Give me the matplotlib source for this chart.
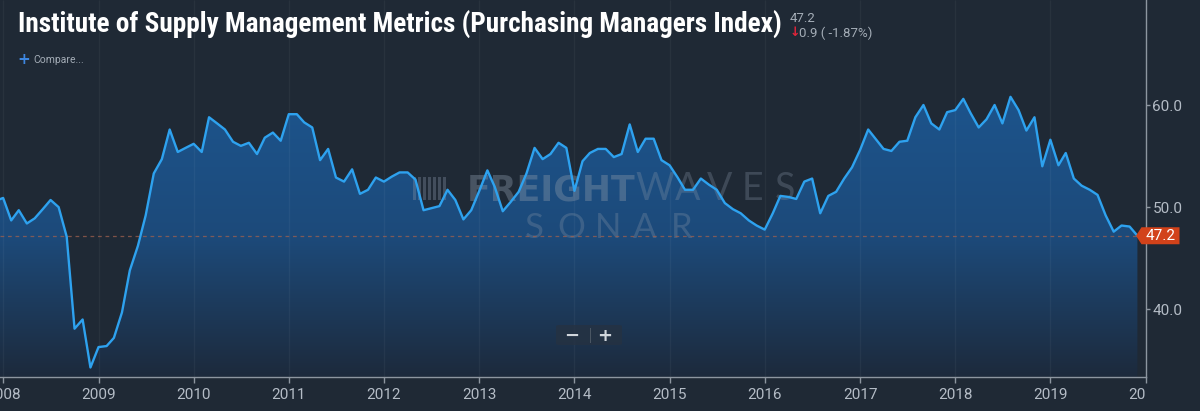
import numpy as np
import pandas as pd
import matplotlib
matplotlib.use("Agg")
import matplotlib.pyplot as plt
import matplotlib.dates as mdates
import matplotlib.transforms as mtransforms
from matplotlib.patches import Polygon, FancyBboxPatch, Rectangle
from matplotlib.colors import LinearSegmentedColormap

# ---------------- data ----------------
start_month = "2007-12-01"
pmi = [
    50.6,
    # 2008
    50.9, 48.7, 49.7, 48.4, 48.9, 49.8, 50.7, 50.0, 47.1, 38.1, 39.0, 34.3,
    # 2009
    36.3, 36.4, 37.2, 39.7, 43.8, 46.2, 49.2, 53.3, 54.7, 57.6, 55.4, 55.8,
    # 2010
    56.2, 55.4, 58.8, 58.2, 57.6, 56.4, 56.0, 56.3, 55.2, 56.8, 57.3, 56.5,
    # 2011
    59.1, 59.1, 58.3, 57.8, 54.6, 55.7, 52.9, 52.5, 53.7, 51.3, 51.7, 52.9,
    # 2012
    52.5, 53.0, 53.4, 53.4, 52.7, 49.7, 49.9, 50.1, 51.7, 50.7, 48.8, 49.7,
    # 2013
    51.6, 53.6, 52.0, 49.6, 50.5, 51.5, 53.3, 55.8, 54.7, 55.2, 56.3, 55.8,
    # 2014
    51.6, 54.5, 55.3, 55.7, 55.7, 54.9, 55.2, 58.1, 55.4, 56.7, 56.7, 54.6,
    # 2015
    54.1, 52.9, 51.7, 51.7, 52.8, 52.2, 51.7, 50.4, 49.8, 49.4, 48.7, 48.2,
    # 2016
    47.8, 49.4, 51.1, 51.0, 50.8, 52.5, 52.8, 49.4, 51.1, 51.5, 52.8, 53.9,
    # 2017
    55.6, 57.6, 56.7, 55.7, 55.5, 56.4, 56.5, 58.8, 60.0, 58.2, 57.6, 59.3,
    # 2018
    59.5, 60.6, 59.2, 57.8, 58.6, 60.0, 58.2, 60.8, 59.5, 57.5, 58.8, 54.0,
    # 2019
    56.6, 54.1, 55.3, 52.8, 52.1, 51.7, 51.2, 49.2, 47.6, 48.2, 48.1, 47.2,
]
year_ticks = list(range(2008, 2021))
y_ticks = [40.0, 50.0, 60.0]
last_value = 47.2
change = -0.9
change_pct = -1.87
title = "Institute of Supply Management Metrics (Purchasing Managers Index)"
x_start, x_end = "2007-12-20", "2019-12-18"
y_lim = (33.4, 70.28)

# ---------------- style ----------------
BG = "#1f2935"
LINE = "#2ea2ef"
AXC = "#8d96a0"
TXT = "#b4bcc6"
W, H = 1200, 411

def fx(px):
    return px / W

def fy(py):
    return 1 - py / H

dates = pd.date_range(start_month, periods=len(pmi), freq="MS")
x = mdates.date2num(dates)
xmin = mdates.date2num(pd.Timestamp(x_start))
xmax = mdates.date2num(pd.Timestamp(x_end))

fig = plt.figure(figsize=(12, 4.11), dpi=100, facecolor=BG)
ax = fig.add_axes([0, fy(376.7), fx(1145.5), 1 - fy(376.7)])
ax.set_facecolor(BG)

# gradient area
poly = ax.fill_between(x, pmi, y_lim[0], color="none", lw=0)
cmap = LinearSegmentedColormap.from_list("g", ["#1d2a3c", "#1c4a7a", "#1d548c"])
grad = np.linspace(0, 1, 256).reshape(-1, 1)
im = ax.imshow(grad, cmap=cmap, origin="lower", aspect="auto",
               extent=[xmin, xmax, y_lim[0], max(pmi)], zorder=1,
               interpolation="bilinear")
im.set_clip_path(poly.get_paths()[0], transform=ax.transData)

# year gridlines
year_x = [mdates.date2num(pd.Timestamp(f"{yr}-01-01")) for yr in year_ticks]
ax.vlines(year_x, y_lim[0], y_lim[1], color="white", alpha=0.045, lw=1, zorder=2)

# line and last-value dashed line
ax.plot(x, pmi, color=LINE, lw=1.7, zorder=5, solid_joinstyle="round")
ax.axhline(last_value, color="#a0604e", lw=0.9, ls=(0, (3, 3)), alpha=0.75, zorder=3)

ax.set_xlim(xmin, xmax)
ax.set_ylim(*y_lim)

# spines / ticks
for s in ["top", "left"]:
    ax.spines[s].set_visible(False)
for s in ["bottom", "right"]:
    ax.spines[s].set_color(AXC)
    ax.spines[s].set_linewidth(1)
ax.yaxis.tick_right()
ax.set_yticks(y_ticks)
ax.set_yticklabels([f"{v:.1f}" for v in y_ticks])
ax.set_xticks(year_x)
ax.set_xticklabels([str(yr) for yr in year_ticks])
ax.tick_params(axis="x", length=4.5, width=1, color=AXC, labelcolor=TXT,
               labelsize=11, pad=3.5)
ax.tick_params(axis="y", length=3, width=1, color=AXC, labelcolor=TXT,
               labelsize=11, pad=2)
for lab in ax.get_xticklabels() + ax.get_yticklabels():
    lab.set_family(["Roboto", "DejaVu Sans"])
clip_bb = mtransforms.TransformedBbox(
    mtransforms.Bbox([[0, 0], [1, 1]]),
    mtransforms.blended_transform_factory(ax.transAxes, fig.transFigure))
for lab in ax.get_xticklabels():
    lab.set_clip_box(clip_bb)
    lab.set_clip_on(True)

# last value tag
anchor = mtransforms.ScaledTranslation(
    1.0, last_value, mtransforms.blended_transform_factory(ax.transAxes, ax.transData))
tag = Polygon([(-9.5, 0), (-4, 8.5), (34, 8.5), (34, -8.5), (-4, -8.5)],
              closed=True, transform=anchor, fc="#d2421a", ec="none",
              clip_on=False, zorder=8)
ax.add_patch(tag)
ax.text(15, 0, f"{last_value:.1f}", transform=anchor, color="white",
        fontsize=11, ha="center", va="center", clip_on=False, zorder=9,
        family=["Roboto", "DejaVu Sans"])

# watermark (behind the line)
wm_col = "#8796a8"
ax.text(fx(635), fy(200), "FREIGHT", transform=fig.transFigure, ha="right",
        va="baseline", fontsize=25, weight="bold", color=wm_col, alpha=0.4,
        zorder=2.5, family=["DejaVu Sans"])
for i, ch in enumerate("WAVES"):
    ax.text(fx(655 + i * 32.5), fy(200), ch, transform=fig.transFigure,
            ha="center", va="baseline", fontsize=27, weight="normal",
            color=wm_col, alpha=0.3, zorder=2.5, family=["Lato", "DejaVu Sans"])
for i, ch in enumerate("SONAR"):
    ax.text(fx(534 + i * 37), fy(237.5), ch, transform=fig.transFigure,
            ha="center", va="baseline", fontsize=25, weight="normal",
            color=wm_col, alpha=0.3, zorder=2.5, family=["Lato", "DejaVu Sans"])
for i in range(7):
    ax.add_patch(Rectangle((fx(413 + i * 5), fy(200)), fx(2.5), 23 / H,
                           transform=fig.transFigure, fc=wm_col, alpha=0.35,
                           ec="none", zorder=2.5))

# zoom buttons
ax.add_patch(FancyBboxPatch((fx(556), fy(345)), fx(66), 20 / H,
                            boxstyle="round,pad=0,rounding_size=0.003",
                            transform=fig.transFigure, fc="#263242", ec="none",
                            alpha=0.8, zorder=6))
ax.text(fx(572), fy(336), "\u2212", transform=fig.transFigure, ha="center",
        va="center", fontsize=13, weight="bold", color="#d0d6dc", zorder=7)
ax.text(fx(605), fy(336), "+", transform=fig.transFigure, ha="center",
        va="center", fontsize=13, weight="bold", color="#d0d6dc", zorder=7)
ax.add_patch(Rectangle((fx(589.5), fy(343)), fx(1), 15 / H,
                       transform=fig.transFigure, fc="#4a5663", ec="none", zorder=7))

# header texts
t = fig.text(fx(18), fy(33), title,
             family=["Roboto Condensed", "Liberation Sans Narrow", "DejaVu Sans"],
             fontstretch="condensed", weight="bold", fontsize=20, color="white",
             va="baseline")
fig.canvas.draw()
w = t.get_window_extent().width
t.set_fontsize(20 * 762 / w)

fig.text(fx(790), fy(18), f"{last_value:.1f}", fontsize=9.5, color="#a3acb6",
         va="center", family=["Roboto", "DejaVu Sans"])
fig.text(fx(790), fy(33), "\u2193", fontsize=9, color="#e0243a", va="center",
         weight="bold", family=["DejaVu Sans"])
fig.text(fx(799), fy(33), f"{abs(change):.1f} ( {change_pct:.2f}%)", fontsize=9.5,
         color="#a3acb6", va="center", family=["Roboto", "DejaVu Sans"])
fig.text(fx(17), fy(60), "+", fontsize=11, color="#3d86e0", va="center",
         weight="bold", family=["DejaVu Sans"])
fig.text(fx(33), fy(60), "Compare...", fontsize=7.5, color="#a3acb6", va="center",
         family=["Roboto", "DejaVu Sans"])

fig.savefig("out.png", dpi=100, facecolor=BG)
